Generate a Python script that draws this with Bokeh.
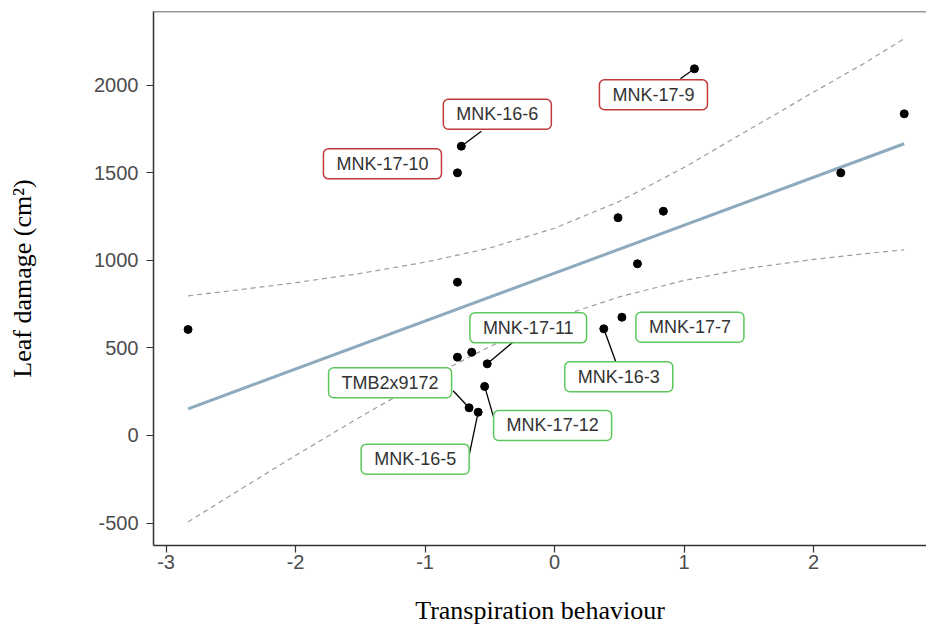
from bokeh.plotting import figure
from bokeh.models import Label, Span, Range1d, FixedTicker
from bokeh.embed import file_html
from bokeh.resources import INLINE

# ---------------- data ----------------
transpiration = [-2.83, -0.72, -0.75, -0.75, 1.08, 2.70, 2.21, 0.49, 0.84, 0.64,
                 0.52, 0.38, -0.52, -0.75, -0.64, -0.54, -0.66, -0.59]
leaf_damage = [605, 1651, 1499, 875, 2093, 1836, 1499, 1243, 1280, 980,
               675, 609, 409, 447, 475, 280, 158, 133]
genotype = ["", "MNK-16-6", "MNK-17-10", "", "MNK-17-9", "", "", "", "", "",
            "MNK-17-7", "MNK-16-3", "MNK-17-11", "", "", "MNK-17-12", "TMB2x9172", "MNK-16-5"]
damage_group = ["", "high", "high", "", "high", "", "", "", "", "",
                "low", "low", "low", "", "", "low", "low", "low"]

fit_x = [-2.83, 2.70]
fit_y = [152, 1665]

band_x = [-2.83, -2.4, -2.0, -1.5, -1.0, -0.5, 0.0, 0.5, 1.0, 1.5, 2.0, 2.4, 2.70]
band_upper = [797, 835, 872, 925, 989, 1070, 1183, 1336, 1530, 1745, 1960, 2128, 2265]
band_lower = [-493, -296, -114, 106, 317, 508, 669, 791, 885, 955, 1005, 1038, 1060]

x_ticks = [-3, -2, -1, 0, 1, 2]
x_tick_labels = ["-3", "-2", "-1", "0", "1", "2"]
y_ticks = [-500, 0, 500, 1000, 1500, 2000]
y_tick_labels = ["-500", "0", "500", "1000", "1500", "2000"]

# ---------------- layout / style ----------------
W, H = 926, 634
ML, MR, MT, MB = 153, 0, 11, 89
X0, X1 = -3.097, 2.872
Y0, Y1 = -628, 2420

# label box centre offsets in screen pixels (dx right, dy up)
label_offset = {
    "MNK-16-6": (36, 32),
    "MNK-17-10": (-75, 9),
    "MNK-17-9": (-41, -26),
    "MNK-17-11": (41, 36),
    "TMB2x9172": (-79, 25),
    "MNK-17-12": (68, -39),
    "MNK-16-5": (-63, -47),
    "MNK-16-3": (15, -48),
    "MNK-17-7": (68, -10),
}
# segment end (on the box edge) offsets in screen pixels; None = no segment
segment_end = {
    "MNK-16-6": (20, 15),
    "MNK-17-10": None,
    "MNK-17-9": (-14, -10),
    "MNK-17-11": (25, 21),
    "TMB2x9172": (-16, 17),
    "MNK-17-12": (9, -31),
    "MNK-16-5": (-9, -43),
    "MNK-16-3": (12, -33),
    "MNK-17-7": None,
}
group_color = {"high": "#c0393b", "low": "#5cc85c"}

p = figure(width=W, height=H, x_range=Range1d(X0, X1), y_range=Range1d(Y0, Y1),
           output_backend="svg", toolbar_location=None,
           min_border_left=ML, min_border_right=MR, min_border_top=MT, min_border_bottom=MB,
           x_axis_label="Transpiration behaviour", y_axis_label="Leaf damage (cm²)")
p.outline_line_color = None
p.xgrid.visible = False
p.ygrid.visible = False
p.background_fill_color = "white"
p.border_fill_color = "white"

for ax in (p.xaxis[0], p.yaxis[0]):
    ax.axis_line_color = "#333333"
    ax.axis_line_width = 1.5
    ax.major_tick_line_color = "#333333"
    ax.major_tick_line_width = 1.2
    ax.major_tick_out = 7
    ax.major_tick_in = 0
    ax.minor_tick_out = 0
    ax.minor_tick_in = 0
    ax.major_label_text_color = "#4d4d4d"
    ax.major_label_text_font = "Liberation Sans"
    ax.major_label_text_font_size = "20px"
    ax.axis_label_text_font = "Liberation Serif"
    ax.axis_label_text_font_style = "normal"
    ax.axis_label_text_font_size = "26px"
    ax.axis_label_text_color = "black"

p.xaxis[0].ticker = FixedTicker(ticks=x_ticks)
p.xaxis[0].major_label_overrides = dict(zip(x_ticks, x_tick_labels))
p.xaxis[0].major_label_standoff = 2
p.xaxis[0].axis_label_standoff = 24
p.yaxis[0].ticker = FixedTicker(ticks=y_ticks)
p.yaxis[0].major_label_overrides = dict(zip(y_ticks, y_tick_labels))
p.yaxis[0].major_label_standoff = 8
p.yaxis[0].axis_label_standoff = 54

# top frame line
p.add_layout(Span(location=Y1, dimension="width", line_color="#333333", line_width=1.5))

# confidence band + fit
p.line(band_x, band_upper, line_color="#9c9c9c", line_width=1.2, line_dash="5 4")
p.line(band_x, band_lower, line_color="#9c9c9c", line_width=1.2, line_dash="5 4")
p.line(fit_x, fit_y, line_color="#8eaabd", line_width=3)

# segments from points to label boxes
fw = W - ML - MR
fh = H - MT - MB
xpp = (X1 - X0) / fw
ypp = (Y1 - Y0) / fh
sx0, sy0, sx1, sy1 = [], [], [], []
for x, y, name in zip(transpiration, leaf_damage, genotype):
    if name and segment_end[name] is not None:
        dx, dy = segment_end[name]
        sx0.append(x); sy0.append(y)
        sx1.append(x + dx * xpp); sy1.append(y + dy * ypp)
p.segment(x0=sx0, y0=sy0, x1=sx1, y1=sy1, line_color="black", line_width=1.3)

# points
p.scatter(transpiration, leaf_damage, size=8, fill_color="black", line_color="black")

# labels
for x, y, name, grp in zip(transpiration, leaf_damage, genotype, damage_group):
    if not name:
        continue
    dx, dy = label_offset[name]
    p.add_layout(Label(x=x, y=y, x_offset=dx, y_offset=dy, text=name,
                       text_align="center", text_baseline="middle",
                       text_font="Liberation Sans", text_font_size="18px",
                       text_color="#333333",
                       background_fill_color="white",
                       border_line_color=group_color[grp], border_line_width=1.5,
                       border_radius=5,
                       padding=dict(left=13, right=13, top=5, bottom=5)))

open("out.html", "w").write(file_html(p, INLINE))
